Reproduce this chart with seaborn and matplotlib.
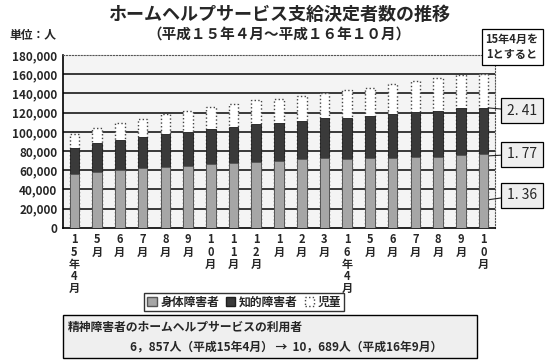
import numpy as np
import pandas as pd
import seaborn as sns
import matplotlib.pyplot as plt
from matplotlib.patches import Patch, Rectangle

# 平成15年4月～平成16年10月 (unit: persons)
periods = ["H15-04", "H15-05", "H15-06", "H15-07", "H15-08", "H15-09", "H15-10",
           "H15-11", "H15-12", "H16-01", "H16-02", "H16-03", "H16-04", "H16-05",
           "H16-06", "H16-07", "H16-08", "H16-09", "H16-10"]
tick_labels = ["15年4月", "5月", "6月", "7月", "8月", "9月", "10月", "11月", "12月",
               "1月", "2月", "3月", "16年4月", "5月", "6月", "7月", "8月", "9月", "10月"]
body = [56600, 58300, 60000, 62400, 63400, 64800, 66200, 67600, 68600, 69600,
        71400, 73100, 71400, 72800, 73100, 73800, 73800, 75500, 77000]
intellectual = [26800, 30000, 31700, 32100, 34500, 35200, 36600, 37200, 39700, 39700,
                40300, 41000, 42700, 43400, 45500, 46500, 48300, 49000, 48000]
children = [14500, 15800, 17600, 18900, 20700, 21400, 22700, 24200, 24800, 25200,
            25900, 26200, 29300, 30000, 31000, 32800, 33700, 34800, 35500]
ratios = {"body": "1. 36", "intellectual": "1. 77", "children": "2. 41"}

df = pd.DataFrame({"period": periods, "body": body,
                   "intellectual": intellectual, "children": children})
df["body_int"] = df["body"] + df["intellectual"]
df["total"] = df["body_int"] + df["children"]

sns.set_style("white")
plt.rcParams["font.family"] = ["Noto Sans CJK JP", "DejaVu Sans"]

fig = plt.figure(figsize=(5.5, 3.6), dpi=100)
ax = fig.add_axes([0.1145, 0.367, 0.7855, 0.48])
ax.set_facecolor("#f4f4f4")

for v in range(20000, 180000, 20000):
    ax.axhline(v, color="#2a2a2a", lw=1.3, zorder=0.5)

# overlapping cumulative bars = stacked look
sns.barplot(data=df, x="period", y="total", color="white", edgecolor="#444444",
            linestyle=":", linewidth=1.0, width=0.42, saturation=1,
            errorbar=None, ax=ax, zorder=2)
sns.barplot(data=df, x="period", y="body_int", color="#3a3a3a", edgecolor="#1e1e1e",
            linewidth=0.6, width=0.42, saturation=1, errorbar=None, ax=ax, zorder=3)
sns.barplot(data=df, x="period", y="body", color="#a6a6a6", edgecolor="#555555",
            linewidth=0.6, width=0.42, saturation=1, errorbar=None, ax=ax, zorder=4)

ax.set_xlim(-0.5, len(periods) - 0.5)
ax.set_ylim(0, 180000)
ax.set_yticks(range(0, 180001, 20000))
ax.set_yticklabels([f"{v:,}" for v in range(0, 180001, 20000)],
                   fontsize=8.5, fontweight="bold")
ax.set_xticks(range(len(periods)))
ax.set_xticklabels(["\n".join(t) for t in tick_labels], fontsize=8,
                   fontweight="bold", linespacing=0.92, va="top")
ax.tick_params(axis="both", length=0, pad=4)
ax.set_xlabel("")
ax.set_ylabel("")
for side in ["top", "right"]:
    ax.spines[side].set_linestyle(":")
    ax.spines[side].set_color("#555555")
for side in ["left", "bottom"]:
    ax.spines[side].set_color("black")
    ax.spines[side].set_linewidth(1.2)

fig.text(0.507, 0.96, "ホームヘルプサービス支給決定者数の推移", ha="center", va="center",
         fontsize=13, fontweight="bold")
fig.text(0.507, 0.908, "（平成１５年４月～平成１６年１０月）", ha="center", va="center",
         fontsize=10.5, fontweight="bold")
fig.text(0.018, 0.9, "単位：人", ha="left", va="center", fontsize=8.5, fontweight="bold")
fig.text(0.931, 0.869, "15年4月を\n1とすると", ha="center", va="center", fontsize=8,
         fontweight="bold", linespacing=1.2,
         bbox=dict(boxstyle="square,pad=0.35", fc="white", ec="black", lw=0.9))

# ratio call-outs at the last bar
last = len(periods) - 1
box = dict(boxstyle="square,pad=0.4", fc="#eeeeee", ec="black", lw=0.9)
arrow = dict(arrowstyle="-", lw=0.8, color="#222222", shrinkA=0, shrinkB=0)
ax.annotate(ratios["children"], xy=(last + 0.2, df["body_int"].iloc[-1]),
            xytext=(0.949, 0.692), textcoords="figure fraction", ha="center",
            va="center", fontsize=10, bbox=box, arrowprops=arrow, annotation_clip=False)
ax.annotate(ratios["intellectual"], xy=(last + 0.2, df["body"].iloc[-1] - 2000),
            xytext=(0.949, 0.572), textcoords="figure fraction", ha="center",
            va="center", fontsize=10, bbox=box, arrowprops=arrow, annotation_clip=False)
ax.annotate(ratios["body"], xy=(last - 0.05, df["body"].iloc[-1] * 0.37),
            xytext=(0.949, 0.458), textcoords="figure fraction", ha="center",
            va="center", fontsize=10, bbox=box, arrowprops=arrow, annotation_clip=False)

handles = [Patch(fc="#a6a6a6", ec="#555555"), Patch(fc="#3a3a3a", ec="#1e1e1e"),
           Patch(fc="white", ec="#444444", ls=":")]
fig.legend(handles, ["身体障害者", "知的障害者", "児童"], loc="center",
           bbox_to_anchor=(0.444, 0.161), ncol=3, frameon=True, fancybox=False,
           edgecolor="black", prop={"size": 8.5, "weight": "bold"},
           handlelength=0.8, handleheight=0.8, handletextpad=0.3, columnspacing=0.6,
           borderpad=0.25)

fig.patches.append(Rectangle((0.1145, 0.006), 0.753, 0.119, transform=fig.transFigure,
                             fc="#efefef", ec="black", lw=1.0))
fig.text(0.124, 0.092, "精神障害者のホームヘルプサービスの利用者", ha="left", va="center",
         fontsize=8.5, fontweight="bold")
fig.text(0.236, 0.036, "6，857人（平成15年4月） →  10，689人（平成16年9月）", ha="left",
         va="center", fontsize=8.5, fontweight="bold")

fig.savefig("out.png", dpi=100)
